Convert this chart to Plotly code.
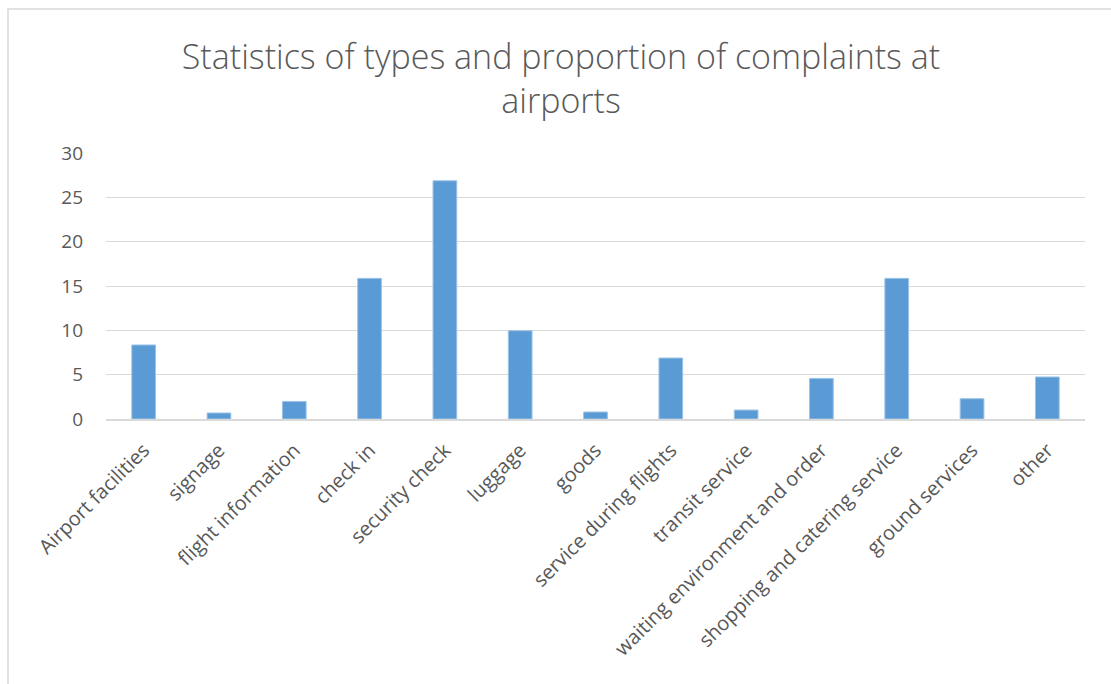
import plotly.graph_objects as go

# Complaint categories and their share (%)
categories = [
    "Airport facilities", "signage", "flight information", "check in",
    "security check", "luggage", "goods", "service during flights",
    "transit service", "waiting environment and order",
    "shopping and catering service", "ground services", "other",
]
shares = [8.35, 0.68, 1.98, 15.86, 26.87, 9.96, 0.79, 6.88, 1.01, 4.58, 15.86, 2.29, 4.74]
y_ticks = [0, 5, 10, 15, 20, 25, 30]

TEXT = "#595959"
GRID = "#d9d9d9"
FONT = "Open Sans"

fig = go.Figure(
    go.Bar(
        x=categories,
        y=shares,
        marker=dict(color="#5b9bd5", line=dict(color="#9dc3e6", width=1)),
        hoverinfo="x+y",
    )
)

W, H = 1111, 684
L, R, T, B = 106, 26, 153, 265
pw, ph = W - L - R, H - T - B


def px_x(x):
    return (x - L) / pw


def px_y(y):
    return (H - B - y) / ph


fig.update_layout(
    width=W,
    height=H,
    margin=dict(l=L, r=R, t=T, b=B),
    paper_bgcolor="white",
    plot_bgcolor="white",
    showlegend=False,
    bargap=0.685,
    font=dict(family=FONT, color=TEXT, size=19),
    title=dict(
        text="Statistics of types and proportion of complaints at<br>airports",
        x=561 / W,
        xref="container",
        xanchor="center",
        y=1 - 69 / H,
        yanchor="middle",
        font=dict(family=FONT, size=34, color=TEXT, weight=300),
    ),
    xaxis=dict(
        tickangle=-45,
        tickfont=dict(size=20, color=TEXT),
        showgrid=False,
        showline=True,
        linecolor=GRID,
        linewidth=1.5,
        ticks="",
        ticklabelstandoff=10,
        fixedrange=True,
    ),
    yaxis=dict(
        range=[0, 30],
        tickvals=y_ticks,
        tickfont=dict(size=19, color=TEXT),
        showgrid=True,
        gridcolor=GRID,
        gridwidth=1.3,
        zeroline=False,
        showline=False,
        ticks="",
        ticklabelstandoff=22,
        fixedrange=True,
    ),
    shapes=[
        # outer chart frame (only top and left edges fall inside the canvas)
        dict(
            type="rect", xref="paper", yref="paper",
            x0=px_x(8), x1=px_x(1130), y0=px_y(9), y1=px_y(720),
            line=dict(color=GRID, width=1.5), fillcolor="rgba(0,0,0,0)",
            layer="below",
        ),
    ],
)

fig.write_html("out.html")
